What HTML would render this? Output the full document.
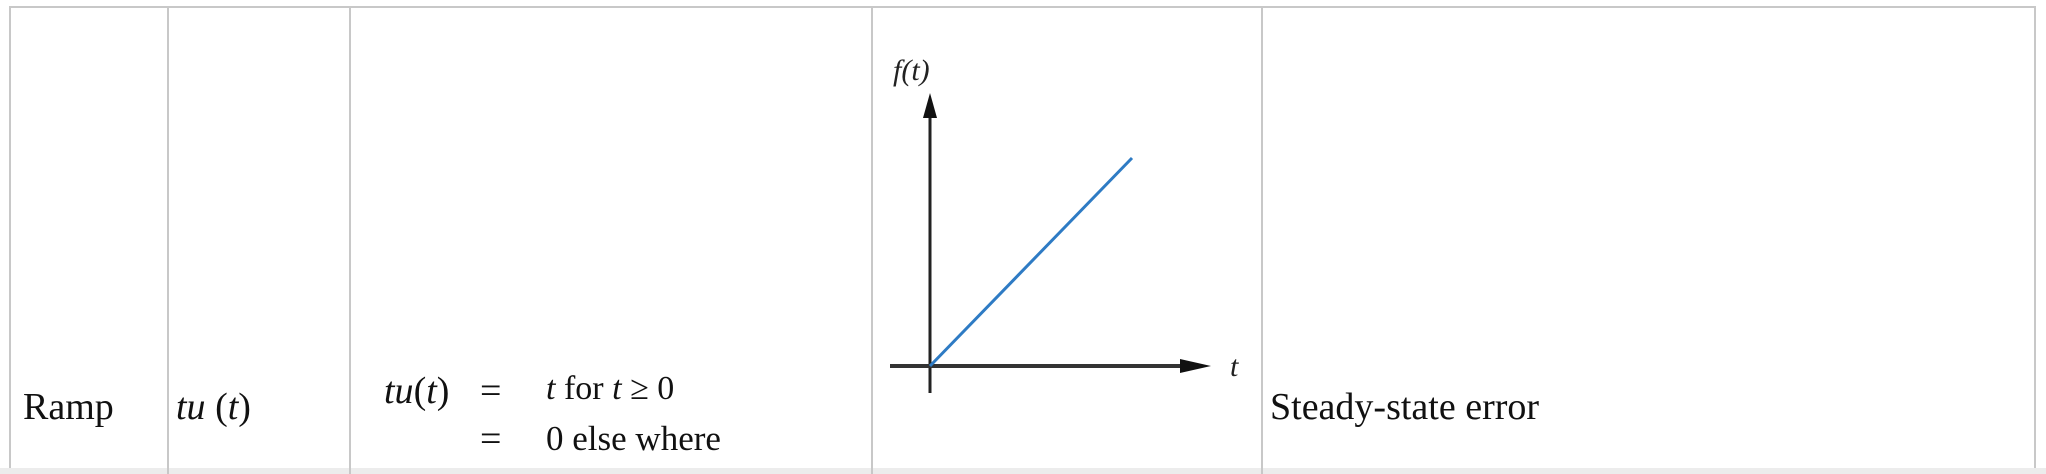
<!DOCTYPE html>
<html><head><meta charset="utf-8"><style>
html,body{margin:0;padding:0;background:#fff;}
#root{position:relative;width:2046px;height:474px;overflow:hidden;font-family:"Liberation Serif",serif;color:#111;}
.t{position:absolute;white-space:nowrap;line-height:1;}
</style></head><body>
<div id="root">
<svg width="2046" height="474" style="position:absolute;left:0;top:0">
  <rect x="10" y="7" width="2025" height="463" fill="none" stroke="#c8c8c8" stroke-width="2"/>
  <rect x="0" y="468" width="2046" height="6" fill="#ececec"/>
  <line x1="168" y1="7" x2="168" y2="474" stroke="#c8c8c8" stroke-width="2"/>
  <line x1="350" y1="7" x2="350" y2="474" stroke="#c8c8c8" stroke-width="2"/>
  <line x1="872" y1="7" x2="872" y2="474" stroke="#c8c8c8" stroke-width="2"/>
  <line x1="1262" y1="7" x2="1262" y2="474" stroke="#c8c8c8" stroke-width="2"/>
</svg>
<div class="t" style="left:23px;top:388px;font-size:38px">Ramp</div>
<div class="t" style="left:176px;top:388px;font-size:38px"><i>tu</i> (<i>t</i>)</div>
<div class="t" style="left:384px;top:372px;font-size:38px"><i>tu</i>(<i>t</i>)</div>
<div class="t" style="left:480px;top:372px;font-size:38px">=</div>
<div class="t" style="left:546px;top:372px;font-size:34px"><i>t</i> for <i>t</i> ≥ 0</div>
<div class="t" style="left:480px;top:420px;font-size:38px">=</div>
<div class="t" style="left:546px;top:421px;font-size:35px">0 else where</div>
<div class="t" style="left:1270px;top:388px;font-size:38px">Steady-state error</div>
<svg id="chart" width="2046" height="474" style="position:absolute;left:0;top:0"></svg>
</div>
<script>
const tValues=[0,1];
const fValues=[0,1];
const axisLabels=["f(t)","t"];
const ns="http://www.w3.org/2000/svg";
const svg=document.getElementById('chart');
const x0=930,y0=366,xEnd=1132,yEnd=158;
function sx(v){return x0+v*(xEnd-x0);}
function sy(v){return y0-v*(y0-yEnd);}
function mk(tag,attrs){const e=document.createElementNS(ns,tag);for(const k in attrs)e.setAttribute(k,attrs[k]);svg.appendChild(e);return e;}
let e;
e=mk('line',{x1:930,y1:393,x2:930,y2:112,stroke:'#222','stroke-width':3});


e=mk('polygon',{points:'930,93 923,118 937,118',fill:'#111'});


e=mk('line',{x1:890,y1:366,x2:1190,y2:366,stroke:'#333','stroke-width':4});


e=mk('polygon',{points:'1211,366 1180,359 1180,373',fill:'#111'});


const pts=tValues.map((t,i)=>sx(t)+','+sy(fValues[i])).join(' ');
e=mk('polyline',{points:pts,fill:'none',stroke:'#2e7bc4','stroke-width':3});


e=mk('text',{x:893,y:80,'font-size':30,'font-style':'italic','font-family':'Liberation Serif, serif',fill:'#222'});
e.textContent=axisLabels[0];


e=mk('text',{x:1230,y:376,'font-size':30,'font-style':'italic','font-family':'Liberation Serif, serif',fill:'#222'});
e.textContent=axisLabels[1];


</script>
</body></html>
